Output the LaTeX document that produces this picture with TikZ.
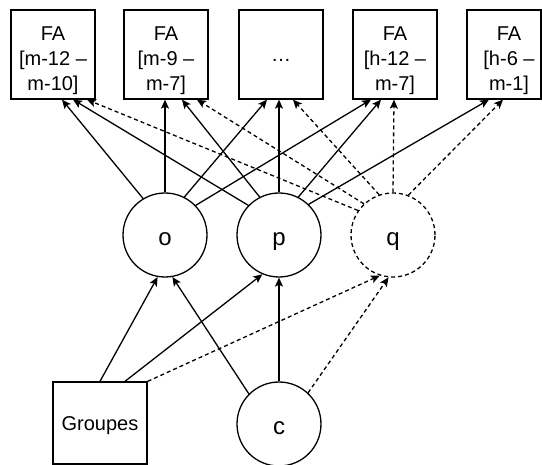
\documentclass[tikz,border=0pt]{standalone}
\usepackage{fontspec}
\setmainfont{Liberation Sans}
\usetikzlibrary{arrows.meta}
\newcommand{\topstrut}{\rule{0pt}{20pt}}
\newcommand{\fatopstrut}{\rule{0pt}{28pt}}
\newcommand{\botstrut}{\rule[-5pt]{0pt}{5pt}}
\newcommand{\circstrut}{\rule[-4pt]{0pt}{30pt}}
\newcommand{\rsh}{\hspace*{10pt}}
\begin{document}
\begin{tikzpicture}[x=1pt,y=-1pt,
  every node/.style={font=\fontsize{20}{25}\selectfont},
  fa/.style={draw,line width=1.3pt,minimum width=84pt,minimum height=89pt,align=center,inner sep=0pt},
  circ/.style={draw,circle,line width=1.3pt,minimum size=84pt,inner sep=0pt,font=\fontsize{24}{28}\selectfont},
  dcirc/.style={circ,dash pattern=on 4pt off 3pt},
  arr/.style={line width=1.3pt,-{Stealth[length=9pt,width=8pt,inset=2pt]}},
  darr/.style={arr,dash pattern=on 4pt off 3pt}]
\useasboundingbox (0,0) rectangle (542,465);
\node[fa] (f1) at (53,54.5) {\fatopstrut FA\\{[}m-12 –\\m-10]\botstrut};
\node[fa] (f2) at (166,54.5) {\fatopstrut FA\\{[}m-9 –\\m-7]\botstrut};
\node[fa] (f3) at (281,54.5) {\topstrut …\botstrut};
\node[fa] (f4) at (395,54.5) {\fatopstrut FA\\{[}h-12 –\\m-7]\botstrut};
\node[fa,minimum width=74pt] (f5) at (504,54.5) {\rsh\fatopstrut FA\\\rsh{[}h-6 –\\\rsh m-1]\botstrut};
\node[circ] (o) at (165,235) {\circstrut o};
\node[circ] (p) at (279,235) {\circstrut p};
\node[dcirc] (q) at (393,235) {\circstrut q};
\node[circ] (c) at (279,424) {\circstrut c};
\node[draw,line width=1.3pt,minimum width=94pt,minimum height=82pt,inner sep=0pt] (g) at (100,423) {\topstrut Groupes\botstrut};
% from o
\draw[arr] (o.121) -- ([xshift=9pt]f1.south);
\draw[arr] (o.90) -- ([xshift=-1pt]f2.south);
\draw[arr] (o.63) -- ([xshift=-14pt]f3.south);
\draw[arr] (o.44) -- ([xshift=-24pt]f4.south);
% from p
\draw[arr] (p.136) -- ([xshift=20pt]f1.south);
\draw[arr] (p.117) -- ([xshift=16pt]f2.south);
\draw[arr] (p.90) -- ([xshift=-2pt]f3.south);
\draw[arr] (p.63) -- ([xshift=-14pt]f4.south);
\draw[arr] (p.46) -- ([xshift=-15pt]f5.south);
% from q
\draw[darr] (q.145) -- ([xshift=34pt]f1.south);
\draw[darr] (q.133) -- ([xshift=31pt]f2.south);
\draw[darr] (q.109) -- ([xshift=12pt]f3.south);
\draw[darr] (q.90) -- ([xshift=-1pt]f4.south);
\draw[darr] (q.69) -- ([xshift=-1pt]f5.south);
% bottom
\draw[arr] (g.north) -- (o.-100);
\draw[arr] ([xshift=25pt]g.north) -- (p.-113);
\draw[darr] (g.north east) -- (q.-108);
\draw[arr] (c.135) -- (o.-80);
\draw[arr] (c) -- (p);
\draw[darr] (c.47) -- (q.-96);
\end{tikzpicture}
\end{document}
